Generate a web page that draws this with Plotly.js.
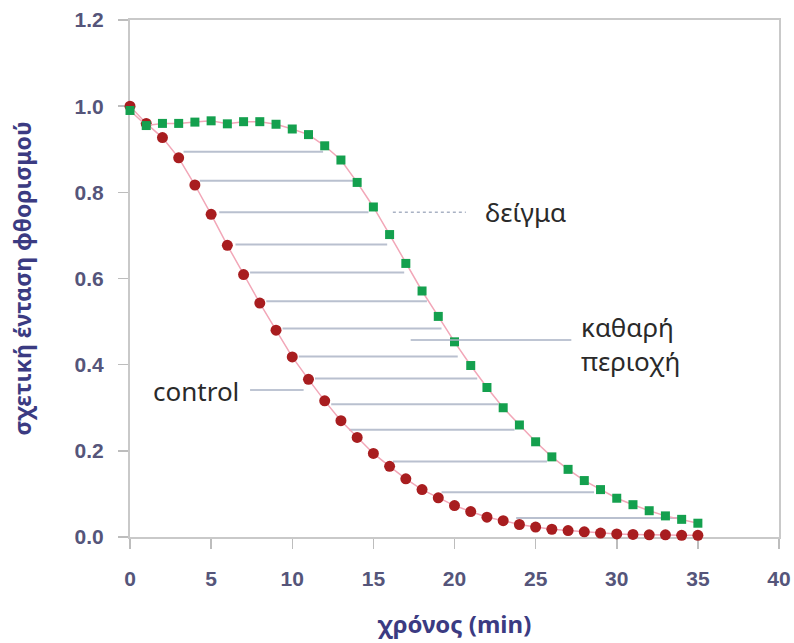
<!DOCTYPE html>
<html>
<head>
<meta charset="utf-8">
<script src="https://cdn.plot.ly/plotly-3.0.1.min.js"></script>
<style>html,body{margin:0;padding:0;background:#fff;}#chart{width:794px;height:643px;}</style>
</head>
<body>
<div id="chart"></div>
<script>
// time in minutes
var time = [0,1,2,3,4,5,6,7,8,9,10,11,12,13,14,15,16,17,18,19,20,21,22,23,24,25,26,27,28,29,30,31,32,33,34,35];
// control (red circles)
var controlValues = [1.0,0.96,0.927,0.88,0.817,0.749,0.677,0.609,0.543,0.48,0.418,0.366,0.316,0.27,0.231,0.194,0.164,0.135,0.11,0.091,0.073,0.059,0.046,0.038,0.029,0.023,0.018,0.015,0.012,0.009,0.007,0.006,0.005,0.005,0.004,0.004];
// sample "δείγμα" (green squares)
var sampleValues = [0.99,0.955,0.96,0.96,0.963,0.966,0.959,0.964,0.964,0.958,0.947,0.934,0.908,0.875,0.823,0.766,0.702,0.635,0.571,0.512,0.453,0.398,0.347,0.30,0.26,0.221,0.186,0.157,0.131,0.11,0.09,0.075,0.061,0.049,0.041,0.032];
// horizontal hatch lines between the two curves
var hatchY  = [0.894,0.827,0.754,0.679,0.614,0.547,0.484,0.419,0.368,0.308,0.249,0.175,0.104,0.044];
var hatchX0 = [3.3,4.3,5.5,6.5,7.4,8.4,9.4,10.4,11.4,12.4,13.5,16.2,19.2,23.8];
var hatchX1 = [11.9,13.75,14.7,15.85,16.9,18.3,19.2,20.2,21.4,22.7,23.7,25.7,28.6,34.1];
// labels and their leader lines
var labelText = ['δείγμα','καθαρή<br>περιοχή','control'];
var labelX = [21.75,27.7,1.3];
var labelY = [0.754,0.448,0.339];
var leaderX0 = [16.2,17.3,7.4];
var leaderX1 = [20.7,27.2,10.7];
var leaderY = [0.754,0.457,0.341];
var leaderDash = ['dot','solid','solid'];
var xTicks = [0,5,10,15,20,25,30,35,40];
var yTicks = [0.0,0.2,0.4,0.6,0.8,1.0,1.2];

var hx = [], hy = [];
for (var i = 0; i < hatchY.length; i++) {
  hx.push(hatchX0[i], hatchX1[i], null);
  hy.push(hatchY[i], hatchY[i], null);
}

var traces = [
  {x: hx, y: hy, mode: 'lines', line: {color: '#b9c0cf', width: 2}, hoverinfo: 'skip', showlegend: false},
  {x: time, y: controlValues, mode: 'lines+markers', name: 'control', cliponaxis: false,
   line: {color: '#f2a7b8', width: 1.5},
   marker: {symbol: 'circle', size: 11, color: '#a81d1f', line: {width: 0}}},
  {x: time, y: sampleValues, mode: 'lines+markers', name: 'δείγμα', cliponaxis: false,
   line: {color: '#f2a7b8', width: 1.5},
   marker: {symbol: 'square', size: 9, color: '#14a04e', line: {width: 0}}}
];

var shapes = [];
for (var j = 0; j < labelText.length; j++) {
  shapes.push({type: 'line', xref: 'x', yref: 'y', x0: leaderX0[j], x1: leaderX1[j], y0: leaderY[j], y1: leaderY[j],
    line: {color: '#a9b2c4', width: 1.5, dash: leaderDash[j]}});
}
var annotations = [];
for (var k = 0; k < labelText.length; k++) {
  annotations.push({x: labelX[k], y: labelY[k], xref: 'x', yref: 'y', text: labelText[k], showarrow: false,
    xanchor: 'left', yanchor: 'middle', align: 'left',
    font: {family: 'Noto Sans', size: 26, color: '#2a2a2a'}});
}

var tickFont = {family: 'Liberation Sans', size: 21, color: '#55557a', weight: 'bold'};
var titleFont = {family: 'Noto Sans', size: 24, color: '#3b3b82', weight: 'bold'};
var yTitleFont = {family: 'Noto Sans', size: 23, color: '#3b3b82', weight: 'bold'};

var layout = {
  width: 794, height: 643,
  margin: {l: 130, r: 15, t: 20, b: 106},
  paper_bgcolor: '#ffffff', plot_bgcolor: '#ffffff',
  showlegend: false,
  xaxis: {range: [0, 40], tickvals: xTicks, ticktext: xTicks.map(String),
    showline: true, linecolor: '#c9c9c9', linewidth: 2, mirror: true,
    ticks: 'outside', ticklen: 10, tickcolor: '#bdbdbd', tickwidth: 1.5,
    showgrid: false, zeroline: false, layer: 'below traces',
    tickfont: tickFont, ticklabelstandoff: 12,
    title: {text: 'χρόνος (min)', font: titleFont, standoff: 27}},
  yaxis: {range: [0, 1.2], tickvals: yTicks, ticktext: yTicks.map(function(v){return v.toFixed(1);}),
    showline: true, linecolor: '#c9c9c9', linewidth: 2, mirror: true,
    ticks: 'outside', ticklen: 10, tickcolor: '#bdbdbd', tickwidth: 1.5,
    showgrid: false, zeroline: false, layer: 'below traces',
    tickfont: tickFont, ticklabelstandoff: 10,
    title: {text: 'σχετική ένταση φθορισμού', font: yTitleFont, standoff: 37}},
  shapes: shapes,
  annotations: annotations
};

Plotly.newPlot('chart', traces, layout, {displayModeBar: false, staticPlot: true});
</script>
</body>
</html>
